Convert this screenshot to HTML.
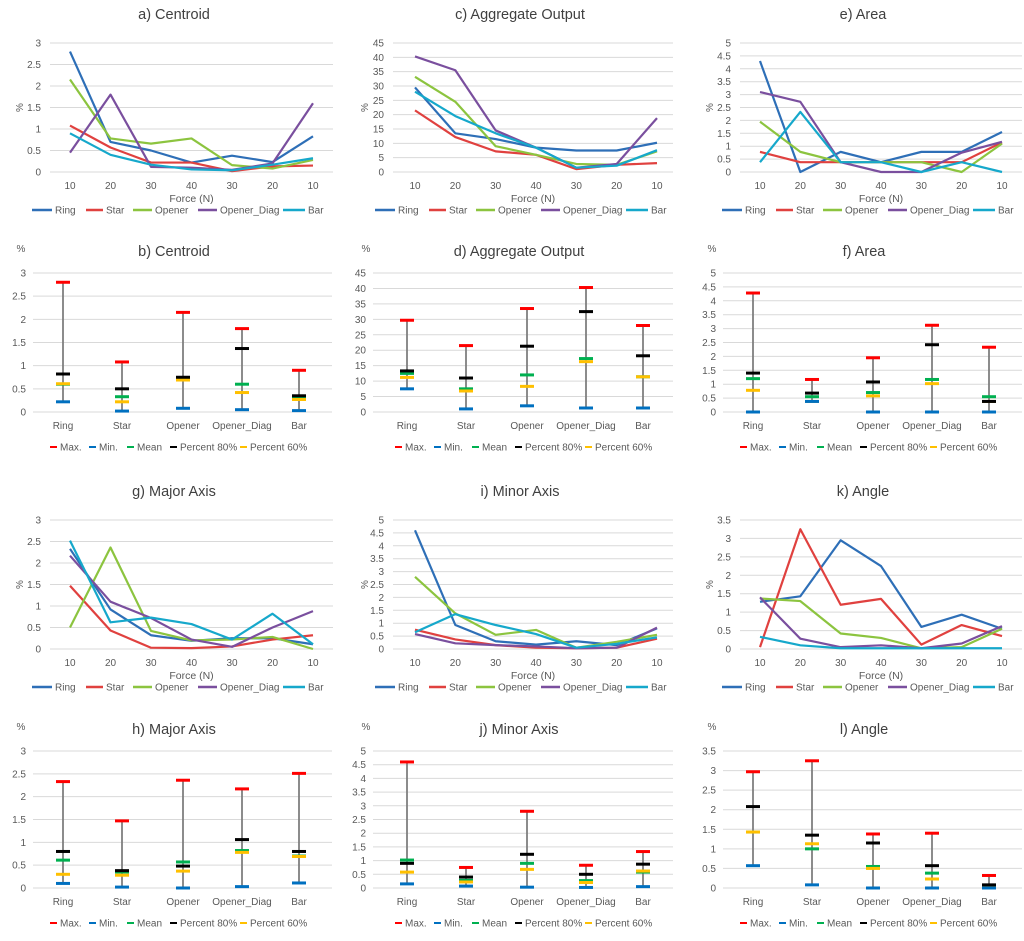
<!DOCTYPE html>
<html><head><meta charset="utf-8"><style>
html,body{margin:0;padding:0;background:#fff;}
svg{display:block;font-family:"Liberation Sans",sans-serif;}
</style></head><body>
<svg id="fig" width="1024" height="941" viewBox="0 0 1024 941"></svg>
<script>
// ---------- data ----------
const forceLabels = ["10","20","30","40","30","20","10"];
const seriesNames = ["Ring","Star","Opener","Opener_Diag","Bar"];
const categories = ["Ring","Star","Opener","Opener_Diag","Bar"];
const statNames = ["Max.","Min.","Mean","Percent 80%","Percent 60%"];

const centroidRing = [2.8,0.7,0.5,0.22,0.38,0.23,0.83];
const centroidStar = [1.08,0.57,0.22,0.22,0.02,0.13,0.15];
const centroidOpener = [2.15,0.78,0.66,0.78,0.16,0.08,0.28];
const centroidDiag = [0.45,1.8,0.12,0.1,0.05,0.2,1.6];
const centroidBar = [0.9,0.4,0.17,0.06,0.04,0.17,0.32];

const aggRing = [29.5,13.5,11.5,8.5,7.5,7.5,10.2];
const aggStar = [21.5,12.2,7.2,6,1,2.5,3.1];
const aggOpener = [33.2,24.5,9,6,2.8,2.5,7.2];
const aggDiag = [40.3,35.5,14.5,8.5,1.5,2.8,18.8];
const aggBar = [28,19.5,13.5,8.5,1.5,2.2,7.6];

const areaRing = [4.3,0,0.78,0.38,0.78,0.78,1.55];
const areaStar = [0.78,0.38,0.38,0.38,0.38,0.38,1.15];
const areaOpener = [1.95,0.78,0.38,0.38,0.38,0,1.1];
const areaDiag = [3.1,2.72,0.38,0,0,0.75,1.17];
const areaBar = [0.38,2.33,0.38,0.38,0,0.38,0];

const majorRing = [2.33,0.92,0.32,0.19,0.25,0.25,0.11];
const majorStar = [1.47,0.43,0.03,0.02,0.06,0.22,0.32];
const majorOpener = [0.5,2.36,0.42,0.2,0.22,0.28,0];
const majorDiag = [2.17,1.1,0.72,0.22,0.05,0.5,0.88];
const majorBar = [2.52,0.62,0.73,0.58,0.22,0.82,0.11];

const minorRing = [4.6,0.93,0.3,0.17,0.3,0.15,0.8];
const minorStar = [0.75,0.37,0.15,0.05,0.03,0.05,0.4];
const minorOpener = [2.8,1.38,0.55,0.74,0.05,0.28,0.55];
const minorDiag = [0.58,0.22,0.15,0.1,0.03,0.05,0.83];
const minorBar = [0.65,1.35,0.93,0.58,0.05,0.2,0.45];

const angleRing = [1.28,1.43,2.95,2.25,0.6,0.93,0.55];
const angleStar = [0.05,3.25,1.2,1.36,0.12,0.65,0.35];
const angleOpener = [1.37,1.3,0.42,0.3,0.02,0.05,0.55];
const angleDiag = [1.4,0.28,0.05,0.1,0.02,0.15,0.62];
const angleBar = [0.33,0.1,0.02,0.02,0.02,0.02,0.02];

const statCentroid = [[2.8,0.22,0.6,0.82,0.61],[1.08,0.02,0.33,0.5,0.22],[2.15,0.08,0.72,0.75,0.69],[1.8,0.05,0.6,1.37,0.42],[0.9,0.03,0.3,0.35,0.27]];
const statAgg = [[29.7,7.5,12.5,13.3,11.2],[21.5,1,7.5,11,6.8],[33.5,2,12,21.3,8.3],[40.3,1.3,17.3,32.5,16.3],[28,1.3,11.4,18.2,11.4]];
const statArea = [[4.28,0,1.2,1.4,0.78],[1.17,0.38,0.55,0.68,0.38],[1.95,0,0.7,1.08,0.58],[3.12,0,1.17,2.42,1.02],[2.33,0,0.55,0.38,0.38]];
const statMajor = [[2.33,0.1,0.61,0.8,0.3],[1.47,0.02,0.35,0.38,0.28],[2.36,0,0.57,0.48,0.37],[2.17,0.03,0.82,1.06,0.78],[2.51,0.11,0.7,0.8,0.69]];
const statMinor = [[4.6,0.15,1.02,0.9,0.58],[0.75,0.07,0.28,0.4,0.22],[2.8,0.03,0.9,1.23,0.68],[0.83,0.02,0.27,0.5,0.2],[1.33,0.05,0.58,0.87,0.62]];
const statAngle = [[2.97,0.57,1.43,2.08,1.43],[3.25,0.08,1.0,1.35,1.13],[1.38,0,0.55,1.15,0.5],[1.4,0,0.38,0.57,0.23],[0.32,0,0.05,0.08,0.03]];

// ---------- rendering ----------
const NS="http://www.w3.org/2000/svg";
const svg=document.getElementById('fig');
const seriesColors=["#2e6fb7","#e0413f","#8cc43f","#7a4f9e","#16a8cb"];
const statColors=["#ff0000","#0070c0","#00b050","#000000","#ffc000"];
function mk(tag,attrs,parent){const e=document.createElementNS(NS,tag);for(const k in attrs)e.setAttribute(k,attrs[k]);(parent||svg).appendChild(e);return e;}
function txt(x,y,s,size,fill,anchor,parent){const t=mk('text',{x:x,y:y,'font-size':size,fill:fill,'text-anchor':anchor||'start'},parent);t.textContent=s;return t;}

function lineChart(id,title,col,oy,ymax,ystep,series){
  const colOff=[0,343,690][col];
  const gL=[50,393,740][col],gR=[333,673,1022][col];
  const x0=[70,415,760][col],x1=[313,657,1002][col];
  const tc=[174,520,863][col];
  const top=43+oy,bot=172+oy;
  const g=mk('g',{});
  
  
  const ys=v=>bot-(v/ymax)*(bot-top);
  const xs=i=>x0+i*(x1-x0)/(forceLabels.length-1);
  const t=txt(tc,oy+19,title,14.5,'#404040','middle',g);
  
  for(let v=0;v<=ymax+1e-9;v+=ystep){
    const l=mk('line',{x1:gL,x2:gR,y1:ys(v),y2:ys(v),stroke:'#d9d9d9','stroke-width':1},g);
    
    const lab=txt(gL-9,ys(v)+3.5,String(+v.toFixed(2)),10,'#595959','end',g);
    
  }
  forceLabels.forEach((s,i)=>{const l=txt(xs(i),oy+189,s,10,'#595959','middle',g);
    });
  const xt=txt((gL+gR)/2,oy+202,'Force (N)',10.5,'#595959','middle',g);
  
  const yx=[23,368,713][col],yy=(top+bot)/2;
  const yt=txt(yx,yy,'%',10,'#595959','middle',g);
  yt.setAttribute('transform','rotate(-90 '+yx+' '+yy+')');
  
  series.forEach((d,si)=>{
    const p=mk('polyline',{points:d.map((v,i)=>xs(i)+','+ys(v)).join(' '),fill:'none',stroke:seriesColors[si],'stroke-width':2.2,'stroke-linejoin':'round'},g);
    
    
  });
  const ls=[32,86,133,198,283],lt=[55,106,155,220,308];
  seriesNames.forEach((n,si)=>{
    const e=mk('g',{},g);
    
    mk('line',{x1:ls[si]+colOff,x2:lt[si]+colOff-3,y1:oy+210,y2:oy+210,stroke:seriesColors[si],'stroke-width':2.5},e);
    txt(lt[si]+colOff,oy+213.5,n,10,'#595959','start',e);
  });
}

function statChart(id,title,col,top,bot,ymax,ystep,data){
  const colOff=[0,345,690][col];
  const gL=[33,373,723][col],gR=[332,673,1022][col];
  const cx=[63,122,183,242,299].map(v=>v+[0,344,690][col]);
  const tc=[174,519,864][col];
  const g=mk('g',{});
  
  
  const ys=v=>bot-(v/ymax)*(bot-top);
  const t=txt(tc,top-17,title,14.5,'#404040','middle',g);
  
  const pc=txt([21,366,712][col],top-21,'%',10,'#595959','middle',g);
  
  for(let v=0;v<=ymax+1e-9;v+=ystep){
    const l=mk('line',{x1:gL,x2:gR,y1:ys(v),y2:ys(v),stroke:'#d9d9d9','stroke-width':1},g);
    
    const lab=txt(gL-7,ys(v)+3.5,String(+v.toFixed(2)),10,'#595959','end',g);
    
  }
  categories.forEach((c,i)=>{
    const l=txt(cx[i],bot+17,c,10,'#595959','middle',g);
    
    const d=data[i];
    const w=mk('line',{x1:cx[i],x2:cx[i],y1:ys(d[0]),y2:ys(d[1]),stroke:'#7f7f7f','stroke-width':1.8},g);
    
    [2,4,3,0,1].forEach(k=>{
      const m=mk('line',{x1:cx[i]-7,x2:cx[i]+7,y1:ys(d[k]),y2:ys(d[k]),stroke:statColors[k],'stroke-width':3},g);
      
      
    });
  });
  const ms=[53,92,130,173,243];
  statNames.forEach((n,k)=>{
    const e=mk('g',{},g);
    
    mk('line',{x1:ms[k]+colOff-3,x2:ms[k]+colOff+4,y1:bot+35,y2:bot+35,stroke:statColors[k],'stroke-width':2},e);
    txt(ms[k]+colOff+7,bot+38.5,n,10,'#595959','start',e);
  });
}

lineChart('centroid','a) Centroid',0,0,3,0.5,[centroidRing,centroidStar,centroidOpener,centroidDiag,centroidBar]);
lineChart('aggregate','c) Aggregate Output',1,0,45,5,[aggRing,aggStar,aggOpener,aggDiag,aggBar]);
lineChart('area','e) Area',2,0,5,0.5,[areaRing,areaStar,areaOpener,areaDiag,areaBar]);
statChart('centroid','b) Centroid',0,273,412,3,0.5,statCentroid);
statChart('aggregate','d) Aggregate Output',1,273,412,45,5,statAgg);
statChart('area','f) Area',2,273,412,5,0.5,statArea);
lineChart('major-axis','g) Major Axis',0,477,3,0.5,[majorRing,majorStar,majorOpener,majorDiag,majorBar]);
lineChart('minor-axis','i) Minor Axis',1,477,5,0.5,[minorRing,minorStar,minorOpener,minorDiag,minorBar]);
lineChart('angle','k) Angle',2,477,3.5,0.5,[angleRing,angleStar,angleOpener,angleDiag,angleBar]);
statChart('major-axis','h) Major Axis',0,751,888,3,0.5,statMajor);
statChart('minor-axis','j) Minor Axis',1,751,888,5,0.5,statMinor);
statChart('angle','l) Angle',2,751,888,3.5,0.5,statAngle);
</script>
</body></html>
